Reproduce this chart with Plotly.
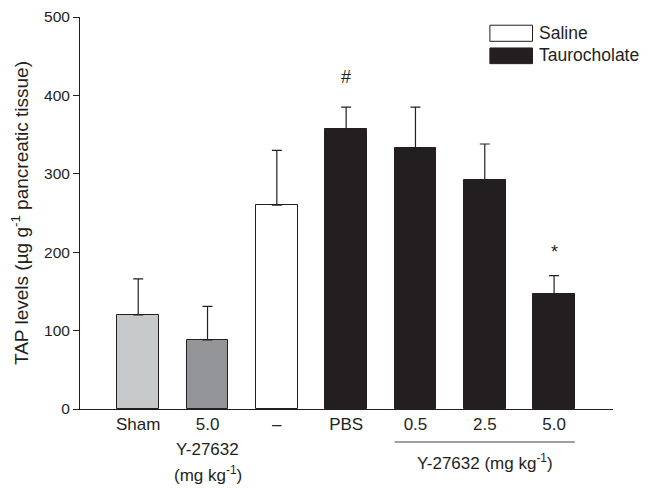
import plotly.graph_objects as go

categories = ["Sham", "5.0", "–", "PBS", "0.5", "2.5", "5.0"]
means = [120, 88, 260, 357, 333, 292, 147]
errors = [46, 43, 70, 28, 52, 46, 23]
colors = ["#c8c9cb", "#939598", "#ffffff", "#231f20", "#231f20", "#231f20", "#231f20"]
y_ticks = [0, 100, 200, 300, 400, 500]
markers = [("#", 3, 423), ("*", 6, 200)]

FONT = "Liberation Sans, Arial, sans-serif"
DARK = "#231f20"
xpos = list(range(len(categories)))

fig = go.Figure()
fig.add_trace(go.Bar(
    x=xpos, y=means, width=0.6,
    marker=dict(color=colors, line=dict(color=DARK, width=1)),
    error_y=dict(type="data", symmetric=False, array=errors,
                 arrayminus=[0] * len(errors), color=DARK, thickness=1.2, width=5),
    showlegend=False,
))

# page body has an 8px default margin, so the figure is 8px smaller to fit the window
fig.update_layout(
    width=643, height=480,
    margin=dict(l=72, r=38, t=9, b=79, autoexpand=False),
    plot_bgcolor="white", paper_bgcolor="white",
    font=dict(family=FONT, size=15, color=DARK),
    bargap=0,
)
fig.update_xaxes(
    range=[-0.84, 6.85], tickvals=xpos, ticktext=categories, automargin=False,
    showline=True, linecolor=DARK, linewidth=1, ticks="", showgrid=False,
    zeroline=False, tickfont=dict(size=17),
)
fig.update_yaxes(
    range=[0, 500], tickvals=y_ticks, showline=True, linecolor=DARK, linewidth=1,
    ticks="outside", ticklen=6, tickcolor=DARK, showgrid=False, zeroline=False,
    tickfont=dict(size=15.5), automargin=False,
    title=dict(text="TAP levels (µg g<sup>-1</sup> pancreatic tissue)", font=dict(size=19), standoff=14),
)

# significance markers
for txt, xi, yv in markers:
    fig.add_annotation(x=xi, y=yv, text=txt, showarrow=False, font=dict(size=18))

# sub labels below second bar
fig.add_annotation(x=1, y=0, yref="y", text="Y-27632", showarrow=False,
                   yanchor="top", yshift=-29, font=dict(size=17))
fig.add_annotation(x=1, y=0, yref="y", text="(mg kg<sup>-1</sup>)", showarrow=False,
                   yanchor="top", yshift=-52, font=dict(size=17))

# bracket for Taurocholate Y-27632 group
fig.add_shape(type="line", xref="x", yref="paper", x0=3.7, x1=6.3,
              y0=-0.084, y1=-0.084, line=dict(color="#808080", width=1.5))
fig.add_annotation(x=5, y=0, yref="y", text="Y-27632 (mg kg<sup>-1</sup>)", showarrow=False,
                   yanchor="top", yshift=-40, font=dict(size=17))

# legend
fig.add_shape(type="rect", xref="paper", yref="paper", x0=0.769, x1=0.849, y0=0.938, y1=0.979,
              line=dict(color=DARK, width=1), fillcolor="white")
fig.add_shape(type="rect", xref="paper", yref="paper", x0=0.769, x1=0.849, y0=0.881, y1=0.921,
              line=dict(color=DARK, width=1), fillcolor=DARK)
fig.add_annotation(xref="paper", yref="paper", x=0.857, y=0.959, text="Saline", showarrow=False,
                   xanchor="left", yanchor="middle", font=dict(size=17.5))
fig.add_annotation(xref="paper", yref="paper", x=0.857, y=0.902, text="Taurocholate", showarrow=False,
                   xanchor="left", yanchor="middle", font=dict(size=17.5))

fig.write_html("out.html")
